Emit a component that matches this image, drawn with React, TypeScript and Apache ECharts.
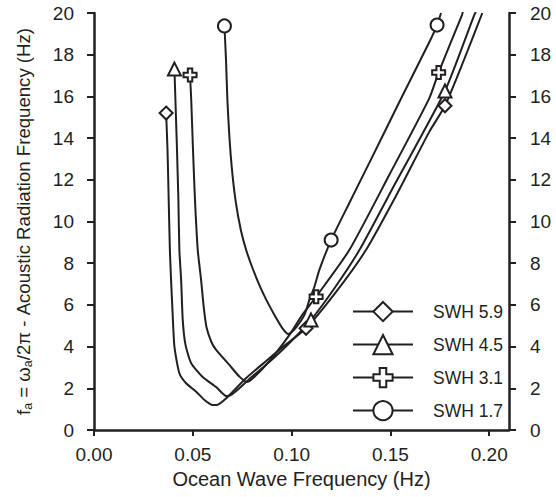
import React, { useEffect, useRef } from 'react';
import * as echarts from 'echarts';

const INK = '#231f20';
const FONT = '"Liberation Sans", Arial, Helvetica, sans-serif';

const seriesNames = ['SWH 5.9', 'SWH 4.5', 'SWH 3.1', 'SWH 1.7'];

// SWH 5.9 (diamond)
const swh59X = [0.0365, 0.0372, 0.0378, 0.0384, 0.0390, 0.0397, 0.0407, 0.0432, 0.0466, 0.0517, 0.0559, 0.0601, 0.0622, 0.0669, 0.0770, 0.0871, 0.0955, 0.1073, 0.1225, 0.1376, 0.1536, 0.1697, 0.1776, 0.1868, 0.1965];
const swh59Y = [15.2, 13.43, 11.03, 8.63, 7.19, 5.76, 4.0, 2.72, 2.24, 1.84, 1.44, 1.2, 1.2, 1.52, 2.49, 3.31, 3.98, 4.88, 6.62, 8.63, 11.37, 14.31, 15.55, 17.65, 20.0];
const swh59Markers = [0, 17, 22];

// SWH 4.5 (triangle)
const swh45X = [0.0407, 0.0412, 0.0420, 0.0427, 0.0432, 0.0441, 0.0449, 0.0463, 0.0492, 0.0550, 0.0618, 0.0669, 0.0680, 0.0786, 0.0887, 0.0989, 0.1098, 0.1221, 0.1343, 0.1520, 0.1776, 0.1924, 0.1932];
const swh45Y = [17.31, 15.83, 13.43, 11.03, 8.63, 7.19, 5.28, 4.08, 3.2, 2.54, 2.06, 1.63, 1.63, 2.45, 3.26, 4.17, 5.28, 6.86, 8.63, 11.75, 16.26, 19.9, 20.05];
const swh45Markers = [0, 16, 20];

// SWH 3.1 (cross)
const swh31X = [0.0486, 0.0492, 0.0501, 0.0511, 0.0525, 0.0542, 0.0554, 0.0569, 0.0594, 0.0618, 0.0685, 0.0736, 0.0776, 0.0837, 0.0913, 0.0989, 0.1054, 0.1124, 0.1292, 0.1494, 0.1697, 0.1744, 0.1862, 0.1866];
const swh31Y = [17.03, 15.83, 13.43, 11.03, 8.63, 7.19, 6.0, 4.94, 4.22, 3.84, 3.12, 2.56, 2.3, 2.78, 3.6, 4.56, 5.52, 6.39, 8.63, 12.23, 15.92, 17.15, 19.9, 20.05];
const swh31Markers = [0, 17, 21];

// SWH 1.7 (circle)
const swh17X = [0.0660, 0.0668, 0.0675, 0.0684, 0.0697, 0.0716, 0.0743, 0.0770, 0.0802, 0.0837, 0.0872, 0.0913, 0.0953, 0.0984, 0.1024, 0.1065, 0.1090, 0.1115, 0.1140, 0.1200, 0.1292, 0.1393, 0.1545, 0.1697, 0.1736, 0.1756];
const swh17Y = [19.38, 17.75, 15.83, 14.24, 12.61, 11.03, 9.59, 8.63, 7.77, 6.95, 6.24, 5.52, 4.89, 4.6, 4.94, 5.52, 6.24, 6.86, 7.67, 9.11, 10.89, 12.81, 15.73, 18.61, 19.42, 20.0];
const swh17Markers = [0, 19, 24];

const xTickValues = [0, 0.05, 0.1, 0.15, 0.2];
const yTickStep = 2;

const CROSS = 'path://M33,0H67V33H100V67H67V100H33V67H0V33H33Z';
const symbols = ['diamond', 'triangle', CROSS, 'circle'];

const allX = [swh59X, swh45X, swh31X, swh17X];
const allY = [swh59Y, swh45Y, swh31Y, swh17Y];
const allMarkers = [swh59Markers, swh45Markers, swh31Markers, swh17Markers];

export default function App() {
  const ref = useRef<HTMLDivElement>(null);
  useEffect(() => {
    if (!ref.current) return;
    const chart = echarts.init(ref.current, undefined, { renderer: 'svg' });
    const series = seriesNames.map((name, s) => ({
      name,
      type: 'line',
      yAxisIndex: 0,
      smooth: 0.2,
      smoothMonotone: 'none',
      showAllSymbol: true,
      symbol: symbols[s],
      symbolSize: 13,
      lineStyle: { color: INK, width: 2 },
      itemStyle: { color: '#fff', borderColor: INK, borderWidth: 2 },
      emphasis: { disabled: true },
      data: allX[s].map((x, i) => ({
        value: [x, allY[s][i]],
        symbol: allMarkers[s].includes(i) ? symbols[s] : 'none',
      })),
      z: 3,
    }));

    const tickLabel = { fontFamily: FONT, fontSize: 19, color: INK };
    const yAxisBase = {
      type: 'value',
      min: 0,
      max: 20,
      interval: yTickStep,
      splitLine: { show: false },
      axisLine: { show: true, lineStyle: { color: INK, width: 2.5 } },
      axisTick: { show: true, inside: false, length: 7, lineStyle: { color: INK, width: 2 } },
    };

    chart.setOption({
      animation: false,
      backgroundColor: '#fff',
      grid: { left: 94, right: 47, top: 13, bottom: 67 },
      xAxis: {
        type: 'value',
        min: 0,
        max: 0.21,
        interval: 0.05,
        splitLine: { show: false },
        axisLine: { show: true, lineStyle: { color: INK, width: 2.5 } },
        axisTick: { show: true, inside: false, length: 6, lineStyle: { color: INK, width: 2 } },
        axisLabel: {
          ...tickLabel,
          margin: 15,
          showMaxLabel: false,
          formatter: (v: number) => (xTickValues.some((t) => Math.abs(t - v) < 1e-9) ? v.toFixed(2) : ''),
        },
        name: 'Ocean Wave Frequency (Hz)',
        nameLocation: 'middle',
        nameGap: 30,
        nameTextStyle: { fontFamily: FONT, fontSize: 20, color: INK },
      },
      yAxis: [
        {
          ...yAxisBase,
          position: 'left',
          axisLabel: { ...tickLabel, margin: 20 },
          name: '{i|f}{s|a}{i| = ω}{s|a}{i|/2π - Acoustic Radiation Frequency (Hz)}',
          nameLocation: 'middle',
          nameGap: 60,
          nameTextStyle: {
            fontFamily: FONT,
            fontSize: 18.6,
            color: INK,
            rich: {
              i: { fontFamily: FONT, fontSize: 18.6, color: INK, lineHeight: 20, verticalAlign: 'top' },
              s: { fontFamily: FONT, fontSize: 12.5, color: INK, lineHeight: 13, verticalAlign: 'bottom', padding: [12, 0, 0, 0] },
            },
          },
        },
        {
          ...yAxisBase,
          position: 'right',
          axisLabel: { ...tickLabel, margin: 21 },
        },
      ],
      legend: {
        orient: 'vertical',
        left: 352,
        top: 301,
        padding: 0,
        itemWidth: 60,
        itemHeight: 24,
        itemGap: 11.8,
        selectedMode: false,
        data: seriesNames,
        formatter: '{g|}{name}',
        textStyle: { fontFamily: FONT, fontSize: 17.5, color: INK, rich: { g: { width: 15 } } },
      },
      series,
    });
    return () => chart.dispose();
  }, []);
  return <div ref={ref} style={{ position: 'fixed', left: 0, top: 0, width: 556, height: 497 }} />;
}
